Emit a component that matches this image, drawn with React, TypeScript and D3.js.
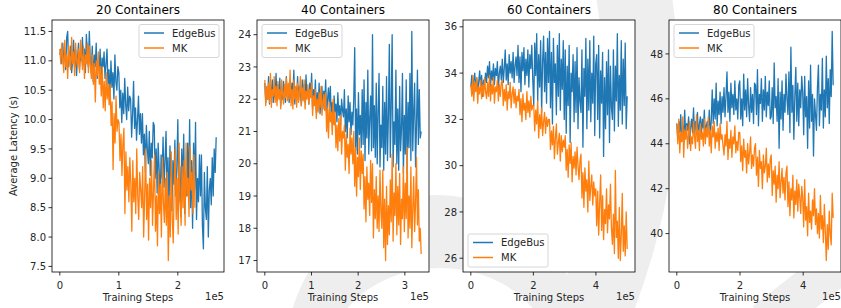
import * as d3 from "d3";

const W = 841;
const H = 308;
const FONT = "DejaVu Sans, sans-serif";
const COLORS = ["#1f77b4", "#ff7f0e"];

// layout of the four axes (px)
const PANEL_LEFT = [52, 257, 463, 669];
const PANEL_W = 172;
const TOP = 20;
const BOTTOM = 272;

const titles = ["20 Containers", "40 Containers", "60 Containers", "80 Containers"];
const seriesNames = ["EdgeBus", "MK"];
// last training step of each series (EdgeBus, MK)
const lastStep = [
  [2.65e5, 2.29e5],
  [3.35e5, 3.35e5],
  [5.0e5, 5.0e5],
  [4.95e5, 4.95e5],
];
const xTicks = [[0, 1, 2], [0, 1, 2, 3], [0, 2, 4], [0, 2, 4]];
const yTicks = [
  [7.5, 8.0, 8.5, 9.0, 9.5, 10.0, 10.5, 11.0, 11.5],
  [17, 18, 19, 20, 21, 22, 23, 24],
  [26, 28, 30, 32, 34, 36],
  [40, 42, 44, 46, 48],
];
const legendLoc = ["upper right", "upper left", "lower left", "upper left"];

// average latency (s)
const edgeBus20 = [
  11.1, 11.2, 10.95, 11.3, 11.0, 11.15, 10.85, 11.4, 11.5, 10.9, 11.1, 11.25, 10.8, 11.0, 11.35, 10.9, 11.2, 10.75, 11.05, 11.3, 10.85, 11.15, 11.0, 11.4, 10.95, 11.2, 10.8, 11.45, 11.1, 10.9,
  11.5, 11.0, 10.8, 11.25, 10.65, 11.1, 10.9, 11.3, 10.7, 11.0, 10.85, 11.2, 10.6, 11.05, 10.9, 11.15, 10.7, 10.95,
  11.2, 10.6, 10.85, 10.4, 11.0, 10.55, 10.8, 10.35, 11.1, 10.65, 10.5, 10.9,
  10.8, 10.2, 10.5, 9.95, 10.45, 10.1, 10.7, 10.25, 10.0, 10.55, 10.15, 10.4,
  10.35, 9.7, 10.1, 10.65, 9.85, 10.2, 9.65, 10.0, 10.4, 9.75, 10.1, 9.6,
  10.1, 9.4, 9.75, 9.1, 9.9, 9.5, 9.25, 9.8, 9.05, 9.6, 9.35, 9.95,
  9.9, 9.0, 9.5, 8.75, 9.6, 9.15, 8.6, 9.4, 9.0, 9.7, 8.85, 9.3,
  9.8, 8.8, 9.35, 8.5, 9.55, 9.0, 8.45, 9.3, 8.9, 9.65, 8.7, 9.2,
  10.0, 8.6, 9.2, 8.35, 9.5, 8.9, 9.75, 8.4, 9.1, 8.7, 9.6, 8.8,
  10.0, 8.5, 9.3, 8.15, 9.6, 8.8, 9.95, 8.3, 9.0, 8.6, 9.4, 8.7,
  9.4, 8.2, 7.8, 9.1, 8.5, 8.3, 9.2, 8.0, 8.8,
  9.0, 8.55, 9.35, 8.7, 9.5, 9.1, 9.7,
];
const mk20 = [
  11.2, 10.95, 11.3, 11.05, 10.8, 11.35, 10.9, 11.1, 10.7, 11.25, 11.0, 10.85, 11.4, 10.95, 11.15, 10.75, 11.3, 11.0, 10.9, 11.2, 10.8, 11.35, 11.05, 10.85, 11.25, 10.7, 11.1, 10.95, 11.3, 10.8,
  11.25, 10.9, 10.7, 11.1, 10.6, 10.95, 10.3, 11.0, 10.75, 11.15, 10.6, 10.9,
  10.4, 10.9, 10.2, 10.65, 10.15, 10.8, 10.35, 10.6, 10.25,
  10.6, 9.9, 10.3, 9.15, 10.1, 9.6, 10.4, 9.8, 10.0,
  9.95, 9.3, 9.75, 9.05, 9.6, 9.85,
  8.4, 9.45, 8.8, 9.2, 8.6, 9.35,
  8.9, 8.1, 9.3, 8.6, 9.0, 8.4, 9.5, 8.7, 8.3, 9.1, 8.8, 8.5,
  9.2, 8.0, 8.7, 9.5, 8.3, 8.9, 7.95, 9.0, 8.5, 9.3, 8.2, 8.8,
  9.4, 8.1, 8.7, 7.85, 9.1, 8.4, 8.9, 8.0, 9.35, 8.6, 8.25, 9.0,
  8.2, 9.1, 7.6, 8.7, 8.0, 9.45, 8.3, 7.9, 8.9,
  9.5, 8.3, 9.0, 8.05, 9.6, 8.6, 8.2, 9.2, 8.5,
  9.3, 8.2, 9.6, 8.7, 9.0, 8.35, 9.55, 8.8, 9.1, 8.4, 9.4, 8.5,
];
const edgeBus40 = [
  22.5, 21.9, 22.3, 22.0, 22.7, 21.85, 22.4, 22.2, 22.6, 21.9, 22.3, 22.05, 22.8, 21.95, 22.45, 22.1, 22.65, 21.8, 22.35, 22.0, 22.55, 22.2, 21.9, 22.7, 22.1,
  22.4, 21.9, 22.6, 22.0, 22.5, 22.2, 22.9, 21.85, 22.35, 22.1, 22.7, 21.95, 22.4, 22.2, 21.8, 22.6, 22.0, 22.45, 21.9, 22.75, 22.15, 22.3, 21.85, 22.5, 22.1,
  22.8, 21.7, 22.3, 21.9, 22.6, 21.6, 22.2, 21.8, 22.5, 21.55, 22.1, 22.4, 21.7, 22.25, 21.9, 22.6, 21.5, 22.0, 22.35, 21.75,
  22.4, 21.4, 21.9, 21.25, 22.1, 21.6, 21.85, 21.3, 22.2, 21.5, 21.8, 21.2, 22.0, 21.65, 21.45,
  22.3, 21.0, 21.7, 20.8, 22.1, 21.3, 21.9, 20.9, 21.6, 21.2,
  22.0, 23.6, 20.4, 21.7, 20.3, 22.2, 20.9, 21.5, 20.5, 22.3,
  20.6, 22.6, 20.1, 21.9, 20.8, 22.9, 20.3, 21.4, 22.1, 20.4, 24.0, 20.5, 21.8, 20.2, 22.5,
  20.0, 21.6, 22.8, 19.9, 21.2, 20.5, 22.4, 19.8, 21.9, 20.3, 22.7, 20.1, 21.5, 23.7, 20.2,
  21.8, 24.0, 19.9, 21.3, 20.6, 22.9, 20.0, 21.7, 19.8, 22.4, 20.4, 21.1, 22.8, 19.7, 21.5,
  20.3, 22.6, 19.7, 21.9, 20.5, 22.8, 20.1, 24.1, 20.4, 21.6, 22.5, 19.9, 21.2, 22.9, 20.6, 22.3, 20.8, 21.0,
];
const mk40 = [
  22.6, 21.8, 22.4, 22.0, 22.5, 21.9, 22.8, 21.75, 22.3, 22.1, 22.7, 21.9, 22.4, 21.8, 22.55, 22.0, 22.3, 21.7, 22.6, 22.15, 21.85, 22.45, 22.05, 22.65, 21.95,
  22.5, 22.0, 22.9, 21.8, 22.3, 21.7, 22.6, 22.0, 22.4, 21.75, 22.5, 21.9, 22.2, 22.7, 21.8, 22.35, 21.95, 22.6, 21.7, 22.25, 22.0, 22.45, 21.85, 22.3, 22.05,
  22.5, 21.5, 22.1, 21.8, 22.3, 21.4, 22.0, 21.6, 22.2, 21.75, 22.4, 21.5, 21.9, 22.15, 21.65,
  22.2, 21.0, 21.7, 20.8, 21.9, 21.3, 21.6, 20.9, 22.0, 21.2,
  21.6, 20.5, 21.2, 20.4, 21.4, 20.7, 21.5, 20.3, 21.0, 20.8,
  21.2, 19.8, 20.9, 20.2, 20.6, 19.7, 21.1, 20.3, 20.8, 20.0,
  21.0, 19.3, 20.5, 19.0, 20.2, 19.6, 20.8, 19.2, 20.4, 19.7,
  20.3, 18.6, 19.6, 18.2, 19.9, 18.9, 19.4, 18.4, 20.1, 18.8,
  20.0, 17.7, 19.2, 18.3, 19.6, 18.0, 19.0, 17.9, 19.8, 18.5,
  18.0, 19.8, 17.4, 18.9, 17.0, 19.3, 17.5, 18.7, 17.8, 19.5,
  18.2, 20.3, 17.6, 19.1, 18.4, 20.0, 17.8, 19.3, 18.1, 19.7, 17.5, 18.9, 18.3, 19.9, 17.9,
  19.4, 18.3, 20.5, 17.7, 19.0, 18.0, 19.9, 17.4, 18.6, 19.6, 17.9, 18.8, 20.2, 18.1, 19.2, 17.6, 18.0, 17.2,
];
const edgeBus60 = [
  33.4, 33.9, 33.1, 33.7, 34.0, 33.3, 33.8, 33.2, 33.6, 34.1, 33.4, 33.9, 33.0, 33.7, 33.5, 34.0,
  33.6, 34.3, 33.8, 34.5, 33.4, 34.1, 33.7, 34.4, 33.5, 34.2, 33.9, 34.5, 33.3, 34.0, 34.3, 33.7,
  34.6, 33.6, 34.2, 35.0, 33.7, 34.4, 33.5, 34.8, 34.0, 34.5, 33.8, 34.9, 33.6, 34.3, 34.7, 33.9,
  35.2, 33.6, 34.7, 33.2, 34.9, 34.1, 35.1, 33.5, 34.6, 33.9, 35.0, 33.4, 34.8, 34.2, 35.2, 33.7,
  32.6, 35.3, 33.9, 35.7, 32.8, 34.8, 33.4, 35.4, 32.3, 34.5, 35.6, 33.2, 34.9, 32.7, 35.5, 33.6,
  35.8, 32.5, 34.9, 31.8, 35.5, 33.6, 34.4, 32.2, 35.2, 33.0, 35.7, 32.4, 34.6, 33.3, 35.4, 32.0,
  35.0, 31.4, 34.3, 32.6, 35.2, 31.0, 34.0, 33.2, 34.8, 31.9, 34.5, 32.3, 35.1, 31.6, 33.8, 32.8,
  32.3, 35.0, 30.8, 34.2, 33.0, 35.5, 31.6, 34.6, 32.4, 35.4, 31.9, 34.0, 32.7, 35.6, 31.3, 34.4,
  34.8, 32.0, 35.2, 31.2, 34.1, 32.7, 34.9, 30.4, 33.8, 31.6, 34.5, 32.2, 35.0, 31.0, 34.3, 32.5,
  32.0, 35.0, 31.5, 34.3, 32.8, 35.7, 31.7, 33.9, 32.4, 35.4, 31.8, 34.6, 32.6, 35.3, 31.6, 33.0,
];
const mk60 = [
  33.5, 33.0, 33.9, 32.8, 33.6, 33.2, 33.8, 32.7, 33.4, 33.1, 33.7, 32.9, 33.5, 33.0, 33.8, 33.2,
  32.9, 33.6, 33.0, 33.9, 32.8, 33.5, 33.1, 33.8, 32.7, 33.4, 33.2, 33.7, 32.8, 33.5, 33.0, 33.6,
  33.7, 32.6, 33.3, 32.8, 33.5, 32.4, 33.2, 32.9, 33.6, 32.5, 33.1, 33.4, 32.7, 33.3, 32.5, 33.0,
  32.8, 33.3, 32.2, 32.9, 31.9, 33.1, 32.4, 32.7, 32.0, 33.2, 32.3, 32.8, 32.1, 33.0, 32.4, 32.6,
  32.6, 31.5, 32.4, 31.8, 32.8, 31.2, 32.2, 31.6, 32.5, 31.3, 31.9, 32.3, 31.4, 32.1, 31.7, 32.0,
  32.0, 30.7, 31.5, 30.9, 31.7, 30.3, 31.2, 31.8, 30.5, 31.0, 31.4, 30.2, 31.3, 30.6, 31.1, 30.8,
  31.3, 29.8, 30.7, 29.5, 30.9, 30.1, 31.0, 29.3, 30.4, 29.9, 30.6, 29.6, 30.8, 30.0, 29.4, 30.2,
  30.5, 28.6, 29.7, 28.2, 29.9, 28.9, 29.4, 28.0, 30.2, 28.5, 29.1, 29.6, 28.3, 29.3, 28.7, 29.0,
  27.4, 28.9, 27.0, 28.4, 29.6, 27.2, 28.7, 26.8, 28.1, 27.5, 29.0, 27.1, 28.3, 27.7, 29.2, 27.3,
  26.6, 27.9, 26.2, 29.8, 26.9, 27.6, 26.0, 28.2, 25.9, 27.0, 28.8, 26.3, 27.4, 26.1, 28.0, 26.4,
];
const edgeBus80 = [
  44.9, 44.2, 45.0, 44.5, 45.3, 44.1, 44.8, 44.4, 45.5, 44.3, 44.9, 44.6, 45.2, 44.0, 44.7, 45.1,
  44.5, 45.6, 44.3, 45.0, 44.6, 45.4, 44.2, 44.9, 45.2, 44.4, 45.1, 44.7, 45.5, 44.3, 44.8, 45.0,
  44.6, 45.5, 44.4, 45.0, 46.4, 44.9, 46.0, 45.1, 46.7, 44.8, 45.9, 45.3, 46.3, 44.9, 46.1, 45.4,
  46.5, 45.2, 46.1, 47.2, 45.4, 46.3, 45.0, 46.7, 45.6, 46.2, 45.3, 46.8, 45.5, 46.0, 45.1, 46.6,
  46.8, 45.1, 46.0, 44.8, 47.1, 45.5, 46.4, 45.2, 46.9, 45.7, 45.0, 46.5, 45.4, 46.2, 44.9, 46.7,
  46.6, 45.3, 47.3, 44.8, 46.2, 45.8, 46.9, 45.0, 46.4, 45.5, 47.0, 45.2, 46.3, 45.7, 46.8, 45.1,
  45.2, 46.5, 44.9, 47.6, 45.6, 46.1, 45.0, 46.9, 43.8, 46.3, 45.1, 46.8, 44.6, 46.2, 45.4, 47.1,
  46.0, 45.3, 47.2, 44.5, 48.3, 45.4, 46.6, 44.2, 46.1, 47.4, 45.0, 46.7, 44.8, 46.4, 45.6, 47.0,
  46.3, 44.4, 47.0, 45.2, 46.1, 43.8, 46.8, 44.7, 47.5, 45.0, 46.2, 43.45, 46.0, 45.3, 44.6, 46.5,
  47.5, 44.8, 46.2, 45.5, 47.8, 44.7, 46.4, 45.2, 47.9, 45.6, 46.9, 44.9, 47.3, 46.1, 49.0, 46.6,
];
const mk80 = [
  44.9, 44.0, 45.1, 43.6, 44.5, 44.1, 45.2, 43.4, 44.6, 44.2, 44.8, 43.8, 44.4, 45.0, 43.7, 44.3,
  44.0, 45.0, 44.3, 43.8, 45.3, 44.1, 44.6, 43.7, 44.9, 44.2, 44.5, 43.9, 45.1, 44.0, 44.7, 44.3,
  45.2, 43.9, 44.6, 43.6, 44.8, 44.3, 45.0, 43.8, 44.5, 44.1, 44.7, 43.7, 44.9, 44.2, 44.4, 43.9,
  43.5, 44.4, 43.9, 45.0, 43.3, 44.2, 43.8, 44.6, 43.4, 44.3, 44.0, 44.8, 43.6, 44.1, 43.7, 44.5,
  44.5, 43.2, 43.9, 42.8, 44.2, 43.4, 43.7, 42.7, 44.0, 43.1, 43.6, 44.3, 42.9, 43.5, 43.0, 43.8,
  44.0, 42.6, 43.4, 42.1, 43.7, 42.9, 43.2, 42.0, 43.5, 42.7, 43.0, 43.8, 42.3, 43.1, 42.5, 43.3,
  43.5, 41.7, 42.8, 42.2, 43.0, 41.4, 42.6, 42.0, 43.2, 41.6, 42.3, 42.9, 41.8, 42.5, 41.5, 42.7,
  43.0, 41.2, 42.3, 40.8, 42.0, 41.5, 42.6, 40.7, 41.9, 41.3, 42.4, 41.0, 42.2, 41.6, 40.9, 42.1,
  41.6, 40.3, 42.4, 40.6, 41.2, 39.9, 41.8, 40.5, 41.0, 40.2, 41.5, 40.8, 42.0, 40.4, 41.1, 40.0,
  40.9, 39.8, 41.7, 40.2, 40.8, 39.6, 41.3, 40.1, 38.8, 40.4, 39.3, 41.0, 40.0, 39.5, 41.8, 40.7,
];

const SERIES = [
  [edgeBus20, mk20],
  [edgeBus40, mk40],
  [edgeBus60, mk60],
  [edgeBus80, mk80],
];

function Legend({ loc, left, right }: { loc: string; left: number; right: number }) {
  const w = 80;
  const h = 33;
  const bx = loc === "upper right" ? right - 5 - w : left + 5;
  const by = loc === "lower left" ? BOTTOM - 5 - h : TOP + 4.5;
  return (
    <g>
      <rect x={bx} y={by} width={w} height={h} rx={2} fill="white" fillOpacity={0.8} stroke="#cccccc" strokeWidth={0.8} />
      {seriesNames.map((name, k) => {
        const ly = by + 8.5 + k * 15;
        return (
          <g key={name}>
            <line x1={bx + 5} x2={bx + 25} y1={ly} y2={ly} stroke={COLORS[k]} strokeWidth={1.5} />
            <text x={bx + 33} y={ly + 3.6} fontSize={10} fontFamily={FONT} fill="#262626">{name}</text>
          </g>
        );
      })}
    </g>
  );
}

function Panel({ i }: { i: number }) {
  const left = PANEL_LEFT[i];
  const right = left + PANEL_W;
  const [eb, mk] = SERIES[i];
  const [lo, hi] = d3.extent([...eb, ...mk]) as [number, number];
  const pad = (hi - lo) * 0.05;
  const y = d3.scaleLinear().domain([lo - pad, hi + pad]).range([BOTTOM, TOP]);
  const L = Math.max(...lastStep[i]) / 1e5;
  const x = d3.scaleLinear().domain([-0.05 * L, 1.05 * L]).range([left, right]);
  const fmt = i === 0 ? d3.format(".1f") : d3.format("d");

  const path = (vals: number[], last: number) =>
    d3.line<number>()
      .x((_, k) => x((k * last) / 1e5 / (vals.length - 1)))
      .y((v) => y(v))(vals) as string;

  const clipId = `clip${i}`;
  return (
    <g>
      <rect x={left} y={TOP} width={PANEL_W} height={BOTTOM - TOP} fill="white" />
      <clipPath id={clipId}>
        <rect x={left} y={TOP} width={PANEL_W} height={BOTTOM - TOP} />
      </clipPath>
      <g clipPath={`url(#${clipId})`}>
        {[eb, mk].map((vals, k) => (
          <path key={k} d={path(vals, lastStep[i][k])} fill="none" stroke={COLORS[k]} strokeWidth={1.3} strokeLinejoin="round" />
        ))}
      </g>
      <rect x={left} y={TOP} width={PANEL_W} height={BOTTOM - TOP} fill="none" stroke="black" strokeWidth={0.8} />
      {yTicks[i].map((t) => (
        <g key={t}>
          <line x1={left - 3.5} x2={left} y1={y(t)} y2={y(t)} stroke="black" strokeWidth={0.8} />
          <text x={left - 6} y={y(t) + 3.6} textAnchor="end" fontSize={10} fontFamily={FONT} fill="#262626">{fmt(t)}</text>
        </g>
      ))}
      {xTicks[i].map((t) => (
        <g key={t}>
          <line x1={x(t)} x2={x(t)} y1={BOTTOM} y2={BOTTOM + 3.5} stroke="black" strokeWidth={0.8} />
          <text x={x(t)} y={289} textAnchor="middle" fontSize={10} fontFamily={FONT} fill="#262626">{t}</text>
        </g>
      ))}
      <text x={(left + right) / 2} y={300.5} textAnchor="middle" fontSize={10} fontFamily={FONT} fill="#262626">Training Steps</text>
      <text x={right} y={300} textAnchor="end" fontSize={10} fontFamily={FONT} fill="#262626">1e5</text>
      <text x={(left + right) / 2} y={14} textAnchor="middle" fontSize={12} fontFamily={FONT} fill="black">{titles[i]}</text>
      <Legend loc={legendLoc[i]} left={left} right={right} />
    </g>
  );
}

export default function App() {
  return (
    <svg width={W} height={H} style={{ position: "absolute", left: 0, top: 0, background: "white" }}>
      {/* faint watermark behind the figure */}
      <path
        fill="#eeeeee"
        fillRule="evenodd"
        d={`M ${437 - 152} 360 A 152 165 0 1 1 ${437 + 152} 360 A 152 165 0 1 1 ${437 - 152} 360 Z M ${440 - 112} 360 A 112 92 0 1 0 ${440 + 112} 360 A 112 92 0 1 0 ${440 - 112} 360 Z`}
      />
      <path d="M 633 -10 Q 660 150 590 320" fill="none" stroke="#eeeeee" strokeWidth={75} />
      <path d="M 765 322 L 855 252" fill="none" stroke="#eeeeee" strokeWidth={40} />
      {titles.map((_, i) => <Panel key={i} i={i} />)}
      <text transform="translate(17,146) rotate(-90)" textAnchor="middle" fontSize={10} fontFamily={FONT} fill="#262626">Average Latency (s)</text>
    </svg>
  );
}
